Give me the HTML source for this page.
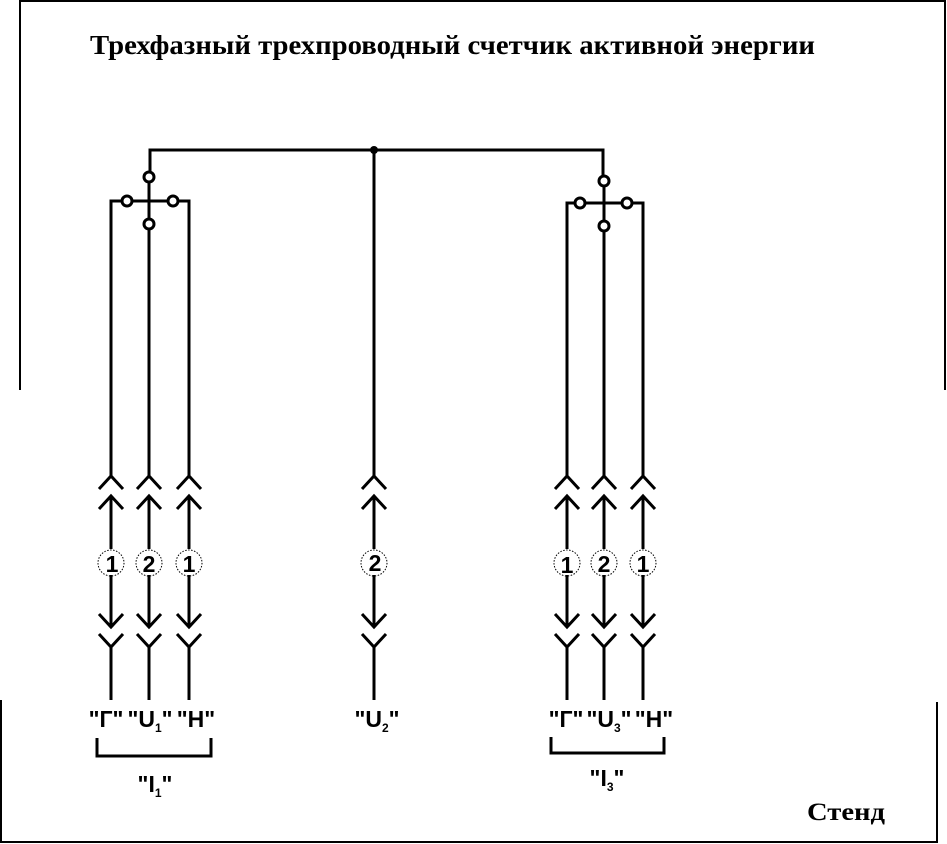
<!DOCTYPE html>
<html><head><meta charset="utf-8"><style>
html,body{margin:0;padding:0;background:#fff;width:947px;height:844px;overflow:hidden}
svg{display:block}
.s{font-family:"Liberation Serif",serif}
.a{font-family:"Liberation Sans",sans-serif;font-weight:bold}
</style></head><body>
<svg width="947" height="844" viewBox="0 0 947 844" xmlns="http://www.w3.org/2000/svg">
<defs>
<g id="c" fill="none" stroke="#000" stroke-width="3">
  <polyline points="-12,489 0,476 12,489"/>
  <polyline points="-12,509 0,496 12,509"/>
  <line x1="0" y1="496" x2="0" y2="549"/>
  <line x1="0" y1="575" x2="0" y2="627"/>
  <polyline points="-12,614 0,627 12,614"/>
  <polyline points="-12,634 0,647 12,634"/>
  <line x1="0" y1="647" x2="0" y2="700"/>
  <circle cx="0" cy="563" r="13" stroke-width="1" stroke-dasharray="1.5,1.5"/>
</g>
</defs>
<g fill="none" stroke="#000" stroke-width="2">
  <polyline points="20,390 20,1 945,1 945,390"/>
  <polyline points="1,700 1,842 937,842 937,702"/>
</g>
<text x="90" y="54" class="s" font-size="27" font-weight="bold" textLength="725" lengthAdjust="spacingAndGlyphs">Трехфазный трехпроводный счетчик активной энергии</text>
<g fill="none" stroke="#000" stroke-width="3">
  <polyline points="150,178 150,150 603,150 603,180"/>
  <line x1="374" y1="150" x2="374" y2="476"/>
  <line x1="149" y1="178" x2="149" y2="476"/>
  <polyline points="111,476 111,201 189,201 189,476"/>
  <line x1="604" y1="180" x2="604" y2="476"/>
  <polyline points="567,476 567,203 643,203 643,476"/>
</g>
<g fill="#fff" stroke="#000" stroke-width="3">
  <circle cx="149" cy="177" r="5"/><circle cx="149" cy="224" r="5"/>
  <circle cx="127" cy="201" r="5"/><circle cx="173" cy="201" r="5"/>
  <circle cx="604" cy="181" r="5"/><circle cx="604" cy="226" r="5"/>
  <circle cx="580" cy="203" r="5"/><circle cx="627" cy="203" r="5"/>
</g>
<circle cx="374" cy="150" r="4" fill="#000"/>
<use href="#c" x="111"/><use href="#c" x="149"/><use href="#c" x="189"/>
<use href="#c" x="374"/>
<use href="#c" x="567"/><use href="#c" x="604"/><use href="#c" x="643"/>
<g class="a" font-size="23" text-anchor="middle">
  <text x="112" y="572">1</text><text x="149" y="572">2</text><text x="189" y="572">1</text>
  <text x="375" y="571">2</text>
  <text x="567" y="573">1</text><text x="604" y="572">2</text><text x="643" y="572">1</text>
</g>
<g class="a" font-size="23" text-anchor="middle">
  <text x="106" y="727">"Г"</text>
  <text x="150" y="727">"U<tspan font-size="12" dy="5">1</tspan><tspan dy="-5">"</tspan></text>
  <text x="196" y="727">"Н"</text>
  <text x="377" y="727">"U<tspan font-size="12" dy="5">2</tspan><tspan dy="-5">"</tspan></text>
  <text x="566" y="727">"Г"</text>
  <text x="609" y="727">"U<tspan font-size="12" dy="5">3</tspan><tspan dy="-5">"</tspan></text>
  <text x="654" y="727">"Н"</text>
  <text x="155" y="792">"I<tspan font-size="12" dy="5">1</tspan><tspan dy="-5">"</tspan></text>
  <text x="607" y="786">"I<tspan font-size="12" dy="5">3</tspan><tspan dy="-5">"</tspan></text>
</g>
<g fill="none" stroke="#000" stroke-width="3">
  <polyline points="97,738 97,756 211,756 211,738"/>
  <polyline points="551,737 551,753 664,753 664,737"/>
</g>
<text x="807" y="820" class="s" font-size="25" font-weight="bold" textLength="78" lengthAdjust="spacingAndGlyphs">Стенд</text>
</svg>
</body></html>
